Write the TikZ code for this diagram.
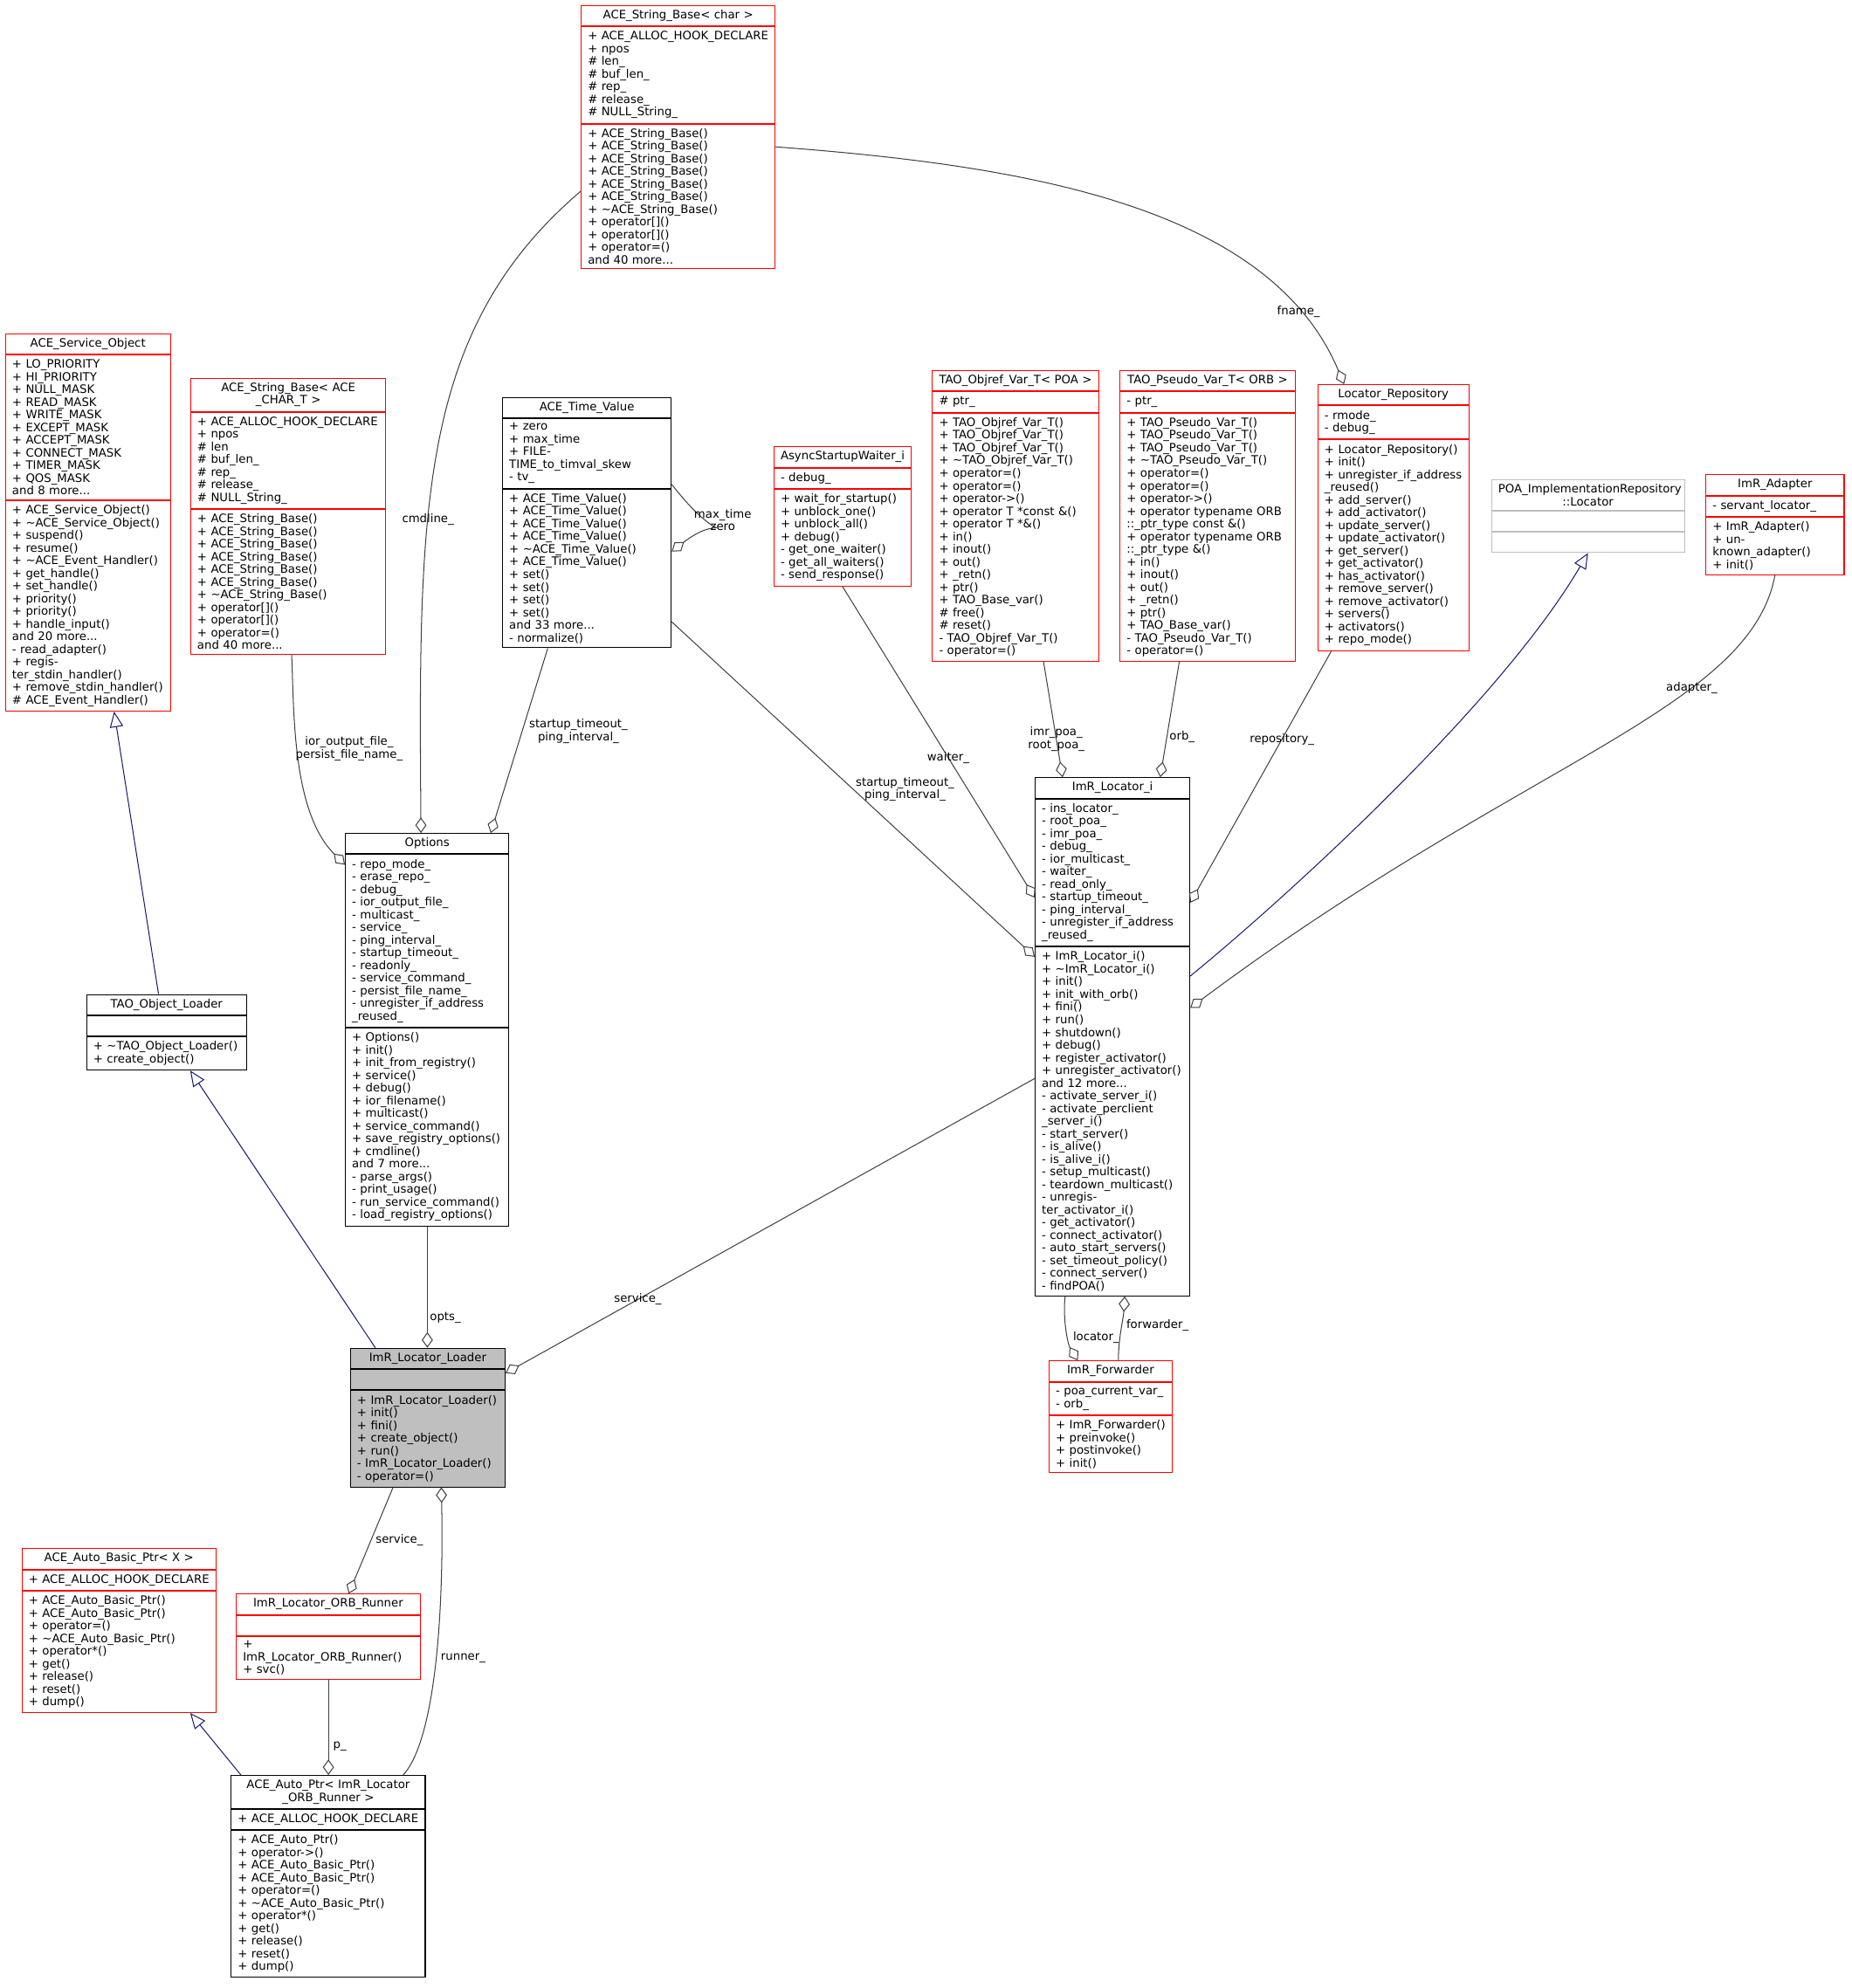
\documentclass[tikz,border=0pt]{standalone}
\usepackage{fontspec}
\setmainfont{DejaVu Sans}
\usetikzlibrary{arrows.meta,calc,positioning}
\definecolor{edgegray}{HTML}{404040}
\definecolor{inhnavy}{HTML}{191970}
\definecolor{boxgray}{HTML}{BFBFBF}

% one class box: name, left, top, width, look, title, attributes, methods
\newcommand\classbox[8]{%
  \pgfmathsetlengthmacro\boxtw{#4*0.02cm-6pt}%
  \node[cbtitle,#5,text width=\boxtw] (#1) at (#2,#3) {#6};
  \node[cbpart,#5,text width=\boxtw] (#1a) at (#1.south west) {#7};
  \node[cbpart,#5,text width=\boxtw] (#1m) at (#1a.south west) {#8};}

\begin{document}
\begin{tikzpicture}[x=0.02cm,y=-0.02cm,
    cbtitle/.style={rectangle,anchor=north west,inner xsep=3pt,inner ysep=2pt,
        minimum height=0.32cm,align=center,font=\fontsize{5.2}{5.69}\selectfont},
    cbpart/.style={cbtitle,align=left},
    redbox/.style={draw=red},
    blackbox/.style={draw=black},
    graybox/.style={draw=boxgray},
    agg/.style={draw=edgegray,{Diamond[open,length=7pt,width=5pt]}-},
    aggend/.style={draw=edgegray,-{Diamond[open,length=7pt,width=5pt]}},
    inh/.style={draw=inhnavy,{Triangle[open,length=7pt,width=6pt]}-},
    elabel/.style={font=\fontsize{5.2}{5.69}\selectfont,align=center,inner sep=1pt}
]
\useasboundingbox (0,0) rectangle (1460,1568);

% classes
\classbox{sbc}{458}{4}{153}{redbox}{ACE\_String\_Base< char >}
 {+ ACE\_ALLOC\_HOOK\_DECLARE\\+ npos\\\# len\_\\\# buf\_len\_\\\# rep\_\\\# release\_\\\# NULL\_String\_}
 {+ ACE\_String\_Base()\\+ ACE\_String\_Base()\\+ ACE\_String\_Base()\\+ ACE\_String\_Base()\\+ ACE\_String\_Base()\\+ ACE\_String\_Base()\\+ \textasciitilde ACE\_String\_Base()\\+ operator[]()\\+ operator[]()\\+ operator=()\\and 40 more...}
\classbox{aso}{4}{263}{130}{redbox}{ACE\_Service\_Object}
 {+ LO\_PRIORITY\\+ HI\_PRIORITY\\+ NULL\_MASK\\+ READ\_MASK\\+ WRITE\_MASK\\+ EXCEPT\_MASK\\+ ACCEPT\_MASK\\+ CONNECT\_MASK\\+ TIMER\_MASK\\+ QOS\_MASK\\and 8 more...}
 {+ ACE\_Service\_Object()\\+ \textasciitilde ACE\_Service\_Object()\\+ suspend()\\+ resume()\\+ \textasciitilde ACE\_Event\_Handler()\\+ get\_handle()\\+ set\_handle()\\+ priority()\\+ priority()\\+ handle\_input()\\and 20 more...\\- read\_adapter()\\+ register\_stdin\_handler()\\+ remove\_stdin\_handler()\\\# ACE\_Event\_Handler()}
\classbox{sbt}{150}{298}{154}{redbox}{ACE\_String\_Base< ACE\\\_CHAR\_T >}
 {+ ACE\_ALLOC\_HOOK\_DECLARE\\+ npos\\\# len\\\# buf\_len\_\\\# rep\_\\\# release\_\\\# NULL\_String\_}
 {+ ACE\_String\_Base()\\+ ACE\_String\_Base()\\+ ACE\_String\_Base()\\+ ACE\_String\_Base()\\+ ACE\_String\_Base()\\+ ACE\_String\_Base()\\+ \textasciitilde ACE\_String\_Base()\\+ operator[]()\\+ operator[]()\\+ operator=()\\and 40 more...}
\classbox{tv}{396}{313}{133}{blackbox}{ACE\_Time\_Value}
 {+ zero\\+ max\_time\\+ FILETIME\_to\_timval\_skew\\- tv\_}
 {+ ACE\_Time\_Value()\\+ ACE\_Time\_Value()\\+ ACE\_Time\_Value()\\+ ACE\_Time\_Value()\\+ \textasciitilde ACE\_Time\_Value()\\+ ACE\_Time\_Value()\\+ set()\\+ set()\\+ set()\\+ set()\\and 33 more...\\- normalize()}
\classbox{asw}{610}{352}{108}{redbox}{AsyncStartupWaiter\_i}
 {- debug\_}
 {+ wait\_for\_startup()\\+ unblock\_one()\\+ unblock\_all()\\+ debug()\\- get\_one\_waiter()\\- get\_all\_waiters()\\- send\_response()}
\classbox{ovt}{735}{292}{131}{redbox}{TAO\_Objref\_Var\_T< POA >}
 {\# ptr\_}
 {+ TAO\_Objref\_Var\_T()\\+ TAO\_Objref\_Var\_T()\\+ TAO\_Objref\_Var\_T()\\+ \textasciitilde TAO\_Objref\_Var\_T()\\+ operator=()\\+ operator=()\\+ operator->()\\+ operator T *const \&()\\+ operator T *\&()\\+ in()\\+ inout()\\+ out()\\+ \_retn()\\+ ptr()\\+ TAO\_Base\_var()\\\# free()\\\# reset()\\- TAO\_Objref\_Var\_T()\\- operator=()}
\classbox{pvt}{883}{292}{138}{redbox}{TAO\_Pseudo\_Var\_T< ORB >}
 {- ptr\_}
 {+ TAO\_Pseudo\_Var\_T()\\+ TAO\_Pseudo\_Var\_T()\\+ TAO\_Pseudo\_Var\_T()\\+ \textasciitilde TAO\_Pseudo\_Var\_T()\\+ operator=()\\+ operator=()\\+ operator->()\\+ operator typename ORB\\::\_ptr\_type const \&()\\+ operator typename ORB\\::\_ptr\_type \&()\\+ in()\\+ inout()\\+ out()\\+ \_retn()\\+ ptr()\\+ TAO\_Base\_var()\\- TAO\_Pseudo\_Var\_T()\\- operator=()}
\classbox{lr}{1039}{303}{119}{redbox}{Locator\_Repository}
 {- rmode\_\\- debug\_}
 {+ Locator\_Repository()\\+ init()\\+ unregister\_if\_address\\\_reused()\\+ add\_server()\\+ add\_activator()\\+ update\_server()\\+ update\_activator()\\+ get\_server()\\+ get\_activator()\\+ has\_activator()\\+ remove\_server()\\+ remove\_activator()\\+ servers()\\+ activators()\\+ repo\_mode()}
\classbox{poa}{1176}{378}{152}{graybox}{POA\_ImplementationRepository\\::Locator}{}{}
\classbox{ad}{1345}{374}{109}{redbox}{ImR\_Adapter}
 {- servant\_locator\_}
 {+ ImR\_Adapter()\\+ unknown\_adapter()\\+ init()}
\classbox{tol}{68}{784}{126}{blackbox}{TAO\_Object\_Loader}{}
 {+ \textasciitilde TAO\_Object\_Loader()\\+ create\_object()}
\classbox{opt}{272}{657}{129}{blackbox}{Options}
 {- repo\_mode\_\\- erase\_repo\_\\- debug\_\\- ior\_output\_file\_\\- multicast\_\\- service\_\\- ping\_interval\_\\- startup\_timeout\_\\- readonly\_\\- service\_command\_\\- persist\_file\_name\_\\- unregister\_if\_address\\\_reused\_}
 {+ Options()\\+ init()\\+ init\_from\_registry()\\+ service()\\+ debug()\\+ ior\_filename()\\+ multicast()\\+ service\_command()\\+ save\_registry\_options()\\+ cmdline()\\and 7 more...\\- parse\_args()\\- print\_usage()\\- run\_service\_command()\\- load\_registry\_options()}
\classbox{li}{816}{613}{122}{blackbox}{ImR\_Locator\_i}
 {- ins\_locator\_\\- root\_poa\_\\- imr\_poa\_\\- debug\_\\- ior\_multicast\_\\- waiter\_\\- read\_only\_\\- startup\_timeout\_\\- ping\_interval\_\\- unregister\_if\_address\\\_reused\_}
 {+ ImR\_Locator\_i()\\+ \textasciitilde ImR\_Locator\_i()\\+ init()\\+ init\_with\_orb()\\+ fini()\\+ run()\\+ shutdown()\\+ debug()\\+ register\_activator()\\+ unregister\_activator()\\and 12 more...\\- activate\_server\_i()\\- activate\_perclient\\\_server\_i()\\- start\_server()\\- is\_alive()\\- is\_alive\_i()\\- setup\_multicast()\\- teardown\_multicast()\\- unregister\_activator\_i()\\- get\_activator()\\- connect\_activator()\\- auto\_start\_servers()\\- set\_timeout\_policy()\\- connect\_server()\\- findPOA()}
\classbox{ll}{276}{1063}{122}{blackbox,fill=boxgray}{ImR\_Locator\_Loader}{}
 {+ ImR\_Locator\_Loader()\\+ init()\\+ fini()\\+ create\_object()\\+ run()\\- ImR\_Locator\_Loader()\\- operator=()}
\classbox{fw}{827}{1073}{97}{redbox}{ImR\_Forwarder}
 {- poa\_current\_var\_\\- orb\_}
 {+ ImR\_Forwarder()\\+ preinvoke()\\+ postinvoke()\\+ init()}
\classbox{abp}{17}{1221}{153}{redbox}{ACE\_Auto\_Basic\_Ptr< X >}
 {+ ACE\_ALLOC\_HOOK\_DECLARE}
 {+ ACE\_Auto\_Basic\_Ptr()\\+ ACE\_Auto\_Basic\_Ptr()\\+ operator=()\\+ \textasciitilde ACE\_Auto\_Basic\_Ptr()\\+ operator*()\\+ get()\\+ release()\\+ reset()\\+ dump()}
\classbox{orr}{186}{1257}{145}{redbox}{ImR\_Locator\_ORB\_Runner}{}
 {+ ImR\_Locator\_ORB\_Runner()\\+ svc()}
\classbox{ap}{182}{1400}{153}{blackbox}{ACE\_Auto\_Ptr< ImR\_Locator\\\_ORB\_Runner >}
 {+ ACE\_ALLOC\_HOOK\_DECLARE}
 {+ ACE\_Auto\_Ptr()\\+ operator->()\\+ ACE\_Auto\_Basic\_Ptr()\\+ ACE\_Auto\_Basic\_Ptr()\\+ operator=()\\+ \textasciitilde ACE\_Auto\_Basic\_Ptr()\\+ operator*()\\+ get()\\+ release()\\+ reset()\\+ dump()}

% inheritance
\draw[inh] ($(asom.south west)+(86,0)$) -- ($(tol.north west)+(57,0)$);
\draw[inh] ($(tolm.south west)+(82,0)$) -- ($(ll.north west)+(20,0)$);
\draw[inh] ($(abpm.south west)+(133,0)$) -- ($(ap.north west)+(8,0)$);
\draw[inh] (poam.south) .. controls (1180,560) and (1000,720) .. ($(lia.north east)+(0,140)$);

% aggregation
\draw[agg] ($(opt.north west)+(60,0)$) .. controls (330,400) and (330,260) .. ($(sbca.north west)+(0,130)$)
  node[elabel,pos=0.38] (lcmd) {cmdline\_};
\draw[agg] ($(lr.north west)+(21,0)$) .. controls (1000,160) and (800,130) .. ($(sbca.north east)+(0,95)$)
  node[elabel,pos=0.15] (lfname) {fname\_};
\draw[agg] ($(opt.north west)+(0,25)$) .. controls (230,640) and (232,560) .. ($(sbtm.south west)+(80,0)$)
  node[elabel,pos=0.55,right=-2pt] (lior) {ior\_output\_file\_\\persist\_file\_name\_};
\draw[agg] ($(opt.north west)+(115,0)$) -- ($(tvm.south west)+(36,0)$)
  node[elabel,pos=0.55,right=2pt] (lst1) {startup\_timeout\_\\ping\_interval\_};
\draw[agg] ($(lim.north west)+(0,8)$) -- ($(tvm.north east)+(0,105)$)
  node[elabel,pos=0.5,right=0pt] (lst2) {startup\_timeout\_\\ping\_interval\_};
\draw[agg] ($(li.north west)+(0,95)$) -- (aswm.south)
  node[elabel,pos=0.45] (lwait) {waiter\_};
\draw[agg] ($(li.north west)+(22,0)$) -- ($(ovtm.south west)+(88,0)$)
  node[elabel,pos=0.33] (limr) {imr\_poa\_\\root\_poa\_};
\draw[agg] ($(li.north west)+(99,0)$) -- ($(pvtm.south west)+(47,0)$)
  node[elabel,pos=0.35,right=0pt] (lorb) {orb\_};
\draw[agg] ($(li.north east)+(0,99)$) -- ($(lrm.south west)+(11,0)$)
  node[elabel,pos=0.65] (lrep) {repository\_};
\draw[agg] ($(li.north east)+(0,182)$) .. controls (1200,600) and (1380,560) .. (adm.south)
  node[elabel,pos=0.68] (ladp) {adapter\_};
\draw[agg] ($(tv.north east)+(0,122)$) .. controls (575,400) and (575,440) .. ($(tv.north east)+(0,69)$);
\node[elabel] (lself) at (570,410) {max\_time\\zero};
\draw[agg] ($(ll.north west)+(61,0)$) -- ($(optm.south west)+(65,0)$)
  node[elabel,pos=0.25,right=0pt] (lopts) {opts\_};
\draw[agg] ($(ll.north east)+(0,20)$) -- ($(lim.north west)+(0,104)$)
  node[elabel,pos=0.25] (lsvc) {service\_};
\draw[agg] ($(fw.north west)+(23,0)$) .. controls (842,1060) and (838,1040) .. ($(lim.south west)+(24,0)$)
  node[elabel,pos=0.4,right=1pt] (lloc) {locator\_};
\draw[agg] ($(lim.south west)+(71,0)$) .. controls (886,1040) and (882,1055) .. ($(fw.north west)+(55,0)$)
  node[elabel,pos=0.45,right=1pt] (lfwd) {forwarder\_};
\draw[agg] ($(orr.north west)+(89,0)$) -- ($(llm.south west)+(34,0)$)
  node[elabel,pos=0.5,right=1pt] (lsvc2) {service\_};
\draw[agg] ($(llm.south west)+(72,0)$) .. controls (350,1260) and (345,1370) .. ($(ap.north west)+(136,0)$)
  node[elabel,pos=0.5,right=1pt] (lrun) {runner\_};
\draw[agg] ($(ap.north west)+(77,0)$) -- ($(orrm.south west)+(73,0)$)
  node[elabel,pos=0.3,right=1pt] (lp) {p\_};
\end{tikzpicture}
\end{document}
